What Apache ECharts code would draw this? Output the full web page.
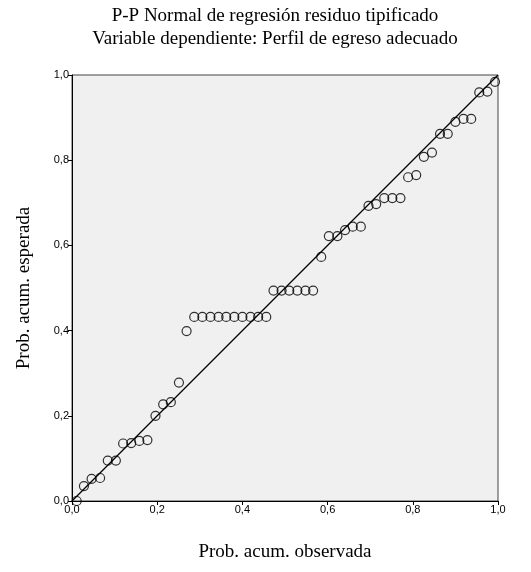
<!DOCTYPE html><html><head><meta charset="utf-8"><script src="https://cdn.jsdelivr.net/npm/echarts@6/dist/echarts.min.js"></script></head><body style="margin:0"><div id="c" style="width:531px;height:572px"></div><script>
const obsX=[0.011,0.028,0.046,0.066,0.084,0.103,0.12,0.139,0.158,0.177,0.196,0.214,0.232,0.251,0.269,
0.287,0.306,0.325,0.344,0.362,0.381,0.4,0.419,0.437,0.456,
0.473,0.492,0.51,0.529,0.548,0.566,
0.585,0.603,0.623,0.641,0.659,0.678,0.696,0.714,0.733,0.752,0.771,0.789,0.808,0.826,0.845,0.864,0.882,0.9,0.919,0.937,0.956,0.975,0.993];
const expY=[0.0,0.035,0.052,0.054,0.095,0.095,0.135,0.136,0.141,0.143,0.2,0.227,0.232,0.278,0.399,
0.432,0.432,0.432,0.432,0.432,0.432,0.432,0.432,0.432,0.432,
0.494,0.494,0.494,0.494,0.494,0.494,
0.573,0.622,0.622,0.636,0.644,0.644,0.693,0.697,0.711,0.711,0.711,0.76,0.765,0.808,0.818,0.862,0.862,0.89,0.897,0.897,0.959,0.961,0.984];
const ticks=[0,0.2,0.4,0.6,0.8,1.0];
const fmt=v=>v.toFixed(1).replace('.',',');
const ax=(name,gap)=>({min:0,max:1,interval:0.2,name:name,nameLocation:'middle',nameGap:gap,
nameTextStyle:{fontFamily:'Liberation Serif',fontSize:19,color:'#000'},
axisLine:{lineStyle:{color:'#000'}},axisTick:{show:true,length:4,lineStyle:{color:'#000'}},
axisLabel:{formatter:fmt,fontFamily:'Liberation Sans',fontSize:11,color:'#000',margin:3},splitLine:{show:false}});
const ch=echarts.init(document.getElementById('c'));
ch.setOption({animation:false,
title:{text:'P-P Normal de regresión residuo tipificado\nVariable dependiente: Perfil de egreso adecuado',left:270,textAlign:'center',top:0,
textStyle:{fontFamily:'Liberation Serif',fontSize:19,fontWeight:'normal',color:'#000',lineHeight:23}},
grid:{left:72,right:33,top:75,bottom:71,show:true,backgroundColor:'#f0f0f0',borderColor:'#444',borderWidth:1},
xAxis:Object.assign(ax('Prob. acum. observada',42),{type:'value'}),
yAxis:Object.assign(ax('Prob. acum. esperada',38),{type:'value'}),
series:[{type:'line',data:[[0,0],[1,1]],symbol:'none',lineStyle:{color:'#000',width:1.2},silent:true},
{type:'scatter',data:obsX.map((x,i)=>[x,expY[i]]),symbol:'circle',symbolSize:9,itemStyle:{color:'rgba(0,0,0,0)',borderColor:'#000',borderWidth:1.2}}]});
</script></body></html>
